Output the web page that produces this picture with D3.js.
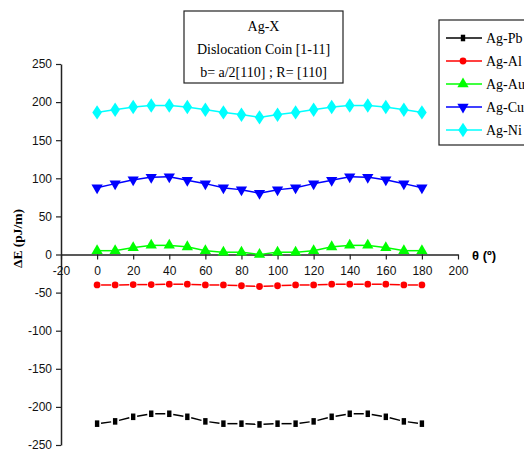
<!DOCTYPE html>
<html>
<head>
<meta charset="utf-8">
<script src="https://cdn.jsdelivr.net/npm/d3@7/dist/d3.min.js"></script>
<style>
  html, body { margin: 0; padding: 0; background: #fff; }
  svg { display: block; }
  .tick text { font-family: "Liberation Sans", Arial, sans-serif; font-size: 12px; fill: #111; }
</style>
</head>
<body>
<svg id="chart" width="524" height="452"></svg>
<script>
// Rotation angle θ (degrees) and energy ΔE (pJ/m) for each alloy pair
const theta = [0, 10, 20, 30, 40, 50, 60, 70, 80, 90, 100, 110, 120, 130, 140, 150, 160, 170, 180];
const agPb = [-222, -219, -213, -209, -209, -213, -219, -222, -222, -223, -222, -222, -219, -213, -209, -209, -213, -219, -222];
const agAl = [-40, -40, -39.5, -39.5, -39, -39, -40, -40, -41, -42, -41, -40, -40, -39, -39, -39, -39, -40, -40];
const agAu = [5, 5, 9, 12, 12, 10, 5, 3, 3, 0, 3, 3, 5, 10, 12, 12, 9, 5, 5];
const agCu = [87.5, 93, 98, 101.5, 102, 97.5, 93, 87.5, 85, 80.5, 85, 87.5, 93, 97.5, 102, 101.5, 98, 93, 87.5];
const agNi = [186.5, 190, 193.5, 195.5, 195.5, 193.5, 190, 186.5, 183.5, 180, 183.5, 186.5, 190, 193.5, 195.5, 195.5, 193.5, 190, 186.5];

const seriesNames = ["Ag-Pb", "Ag-Al", "Ag-Au", "Ag-Cu", "Ag-Ni"];
const seriesValues = [agPb, agAl, agAu, agCu, agNi];
const seriesColors = ["#000000", "#ff0000", "#00ff00", "#0000ff", "#00ffff"];
const seriesSymbols = ["square", "circle", "triangle", "triangleDown", "diamond"];

const xTicks = [-20, 0, 20, 40, 60, 80, 100, 120, 140, 160, 180, 200];
const yTicks = [-250, -200, -150, -100, -50, 0, 50, 100, 150, 200, 250];

const titleLines = ["Ag-X", "Dislocation Coin [1-11]", "b= a/2[110] ; R= [110]"];

const svg = d3.select("#chart");

const x = d3.scaleLinear().domain([-20, 200]).range([61, 458]);
const y = d3.scaleLinear().domain([-250, 250]).range([445, 64]);

// Plain hyphen for negative tick values
const fmt = v => String(v);

// Y axis at the left edge of the plot
const yAxis = svg.append("g")
  .attr("transform", `translate(${x(-20)},0)`)
  .call(d3.axisLeft(y).tickValues(yTicks).tickFormat(fmt).tickSize(5).tickPadding(4).tickSizeOuter(0));

// X axis through ΔE = 0
const xAxis = svg.append("g")
  .attr("transform", `translate(0,${y(0)})`)
  .call(d3.axisBottom(x).tickValues(xTicks).tickFormat(fmt).tickSize(5).tickPadding(7).tickSizeOuter(0));

[yAxis, xAxis].forEach(g => {
  g.select(".domain").attr("stroke", "#222").attr("stroke-width", 1.5);
  g.selectAll(".tick line").attr("stroke", "#222").attr("stroke-width", 1.2);
});

// Axis titles
svg.append("text")
  .attr("transform", `translate(22,${y(21)}) rotate(-90)`)
  .attr("text-anchor", "middle")
  .attr("font-family", "Liberation Serif, Times New Roman, serif")
  .attr("font-weight", "bold")
  .attr("font-size", 13.5)
  .text("ΔE (pJ/m)");

svg.append("text")
  .attr("x", 472)
  .attr("y", y(0) + 5)
  .attr("font-family", "Liberation Sans, Arial, sans-serif")
  .attr("font-weight", "bold")
  .attr("font-size", 13)
  .text("θ (º)");

// Marker shapes
function symbolFor(kind) {
  switch (kind) {
    case "square": return d3.symbol().type(d3.symbolSquare).size(30);
    case "circle": return d3.symbol().type(d3.symbolCircle).size(36);
    case "triangle": return d3.symbol().type(d3.symbolTriangle).size(55);
    case "triangleDown": return d3.symbol().type(d3.symbolTriangle).size(55);
    case "diamond": return d3.symbol().type(d3.symbolDiamond).size(60);
  }
}
function symbolTransform(kind, px, py) {
  if (kind === "triangleDown") return `translate(${px},${py}) rotate(180)`;
  if (kind === "diamond") return `translate(${px},${py}) scale(1.15,1)`;
  if (kind === "square") return `translate(${px},${py}) scale(0.8,1.2)`;
  return `translate(${px},${py})`;
}

// Series: short connecting segments between markers, then the markers
const gaps = [4, 4, 1, 1, 1];
seriesValues.forEach((vals, si) => {
  const g = svg.append("g");
  const pts = theta.map((t, i) => [x(t), y(vals[i])]);
  for (let i = 0; i < pts.length - 1; i++) {
    const [x1, y1] = pts[i], [x2, y2] = pts[i + 1];
    const len = Math.hypot(x2 - x1, y2 - y1);
    const ux = (x2 - x1) / len, uy = (y2 - y1) / len;
    const gp = gaps[si];
    g.append("line")
      .attr("x1", x1 + ux * gp).attr("y1", y1 + uy * gp)
      .attr("x2", x2 - ux * gp).attr("y2", y2 - uy * gp)
      .attr("stroke", seriesColors[si])
      .attr("stroke-width", 1.5);
  }
  g.selectAll("path.m").data(pts).join("path")
    .attr("class", "m")
    .attr("d", symbolFor(seriesSymbols[si])())
    .attr("transform", d => symbolTransform(seriesSymbols[si], d[0], d[1]))
    .attr("fill", seriesColors[si]);
});

// Title box
const tb = svg.append("g");
tb.append("rect")
  .attr("x", 184).attr("y", 11).attr("width", 159).attr("height", 72)
  .attr("fill", "#fff").attr("stroke", "#222").attr("stroke-width", 1.2);
tb.selectAll("text").data(titleLines).join("text")
  .attr("x", 263.5)
  .attr("y", (d, i) => 31 + i * 23)
  .attr("text-anchor", "middle")
  .attr("font-family", "Liberation Serif, Times New Roman, serif")
  .attr("font-size", 14)
  .text(d => d);

// Legend
const lg = svg.append("g");
lg.append("rect")
  .attr("x", 439).attr("y", 20).attr("width", 100).attr("height", 125)
  .attr("fill", "#fff").attr("stroke", "#222").attr("stroke-width", 1.2);
seriesNames.forEach((name, i) => {
  const ly = 38 + i * 23;
  lg.append("line")
    .attr("x1", 446).attr("x2", 482).attr("y1", ly).attr("y2", ly)
    .attr("stroke", seriesColors[i]).attr("stroke-width", 1.5);
  lg.append("path")
    .attr("d", symbolFor(seriesSymbols[i])())
    .attr("transform", symbolTransform(seriesSymbols[i], 463, ly))
    .attr("fill", seriesColors[i]);
  lg.append("text")
    .attr("x", 486).attr("y", ly + 5)
    .attr("font-family", "Liberation Serif, Times New Roman, serif")
    .attr("font-size", 14)
    .text(name);
});
</script>
</body>
</html>
